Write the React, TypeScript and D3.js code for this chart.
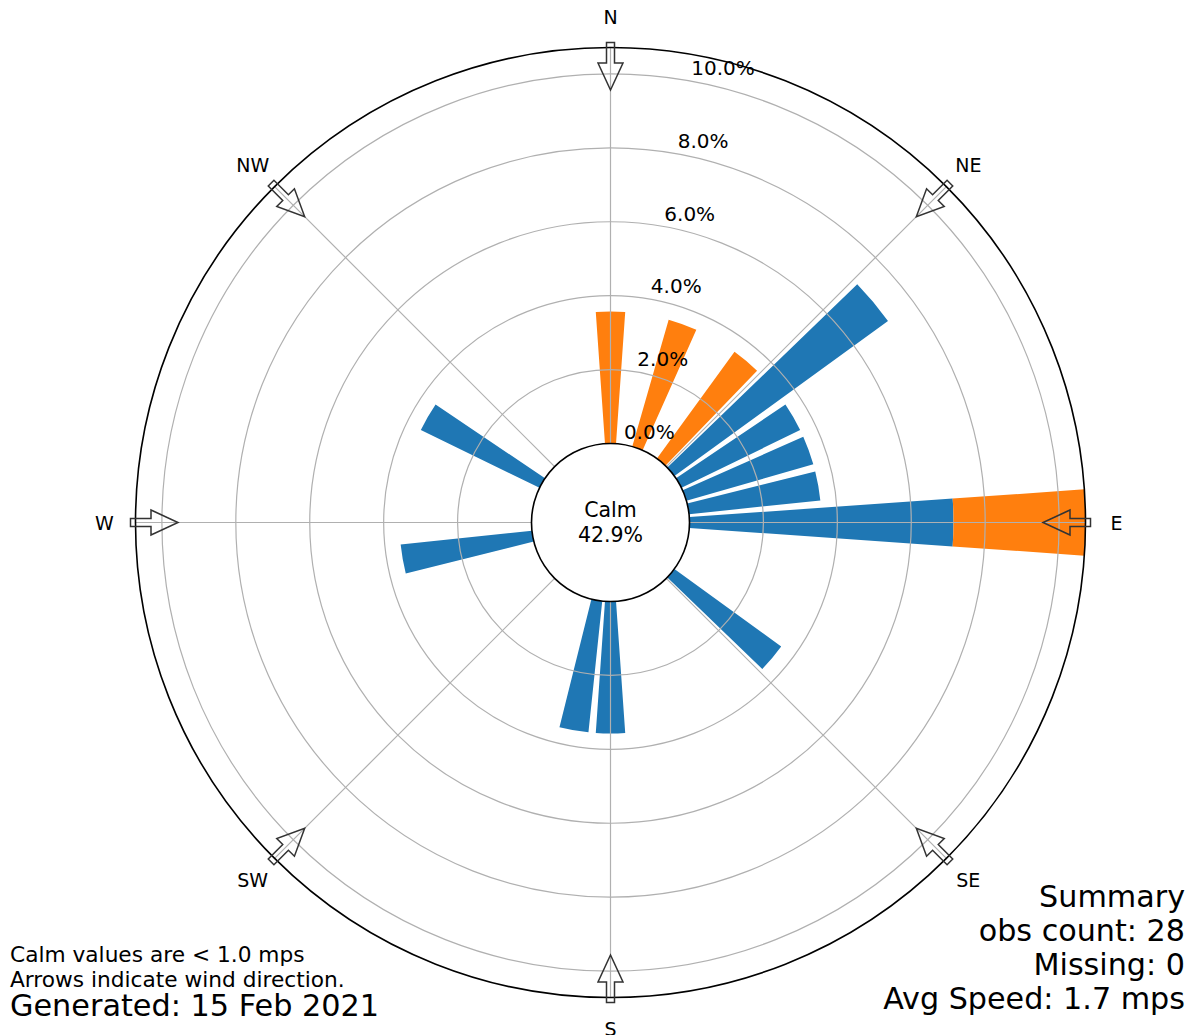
import React from 'react';
import * as d3 from 'd3';

// wind direction bins (deg) that have obs, counts per speed bin
const directions = [0, 20, 40, 50, 60, 70, 80, 90, 130, 180, 190, 260, 300];
const lowSpeedCounts = [0, 0, 0, 2, 1, 1, 1, 2, 1, 1, 1, 1, 1];
const highSpeedCounts = [1, 1, 1, 0, 0, 0, 0, 1, 0, 0, 0, 0, 0];
const obsCount = 28;
const calmPct = 42.9;

const ringTicks = [0, 2, 4, 6, 8, 10];
const compassLabels = ['N', 'NE', 'E', 'SE', 'S', 'SW', 'W', 'NW'];
const compassAngles = [0, 45, 90, 135, 180, 225, 270, 315];

const noteLines = ['Calm values are < 1.0 mps', 'Arrows indicate wind direction.'];
const generatedText = 'Generated: 15 Feb 2021';
const summaryLines = ['Summary', 'obs count: 28', 'Missing: 0', 'Avg Speed: 1.7 mps'];

const colors = ['#1f77b4', '#ff7f0e'];

export default function App() {
  const width = 1192;
  const height = 1035;
  const cx = 610.5;
  const cy = 522.5;
  const calmR = 79;
  const outerR = 475;
  const font = '"DejaVu Sans", sans-serif';

  const rows = directions.map((dir, i) => {
    const low = (lowSpeedCounts[i] / obsCount) * 100;
    const high = (highSpeedCounts[i] / obsCount) * 100;
    return { dir, low, total: low + high };
  });
  const maxPct = d3.max(rows, d => d.total) as number;

  const r = d3.scaleLinear().domain([0, maxPct]).range([calmR, outerR]);
  const rad = (deg: number) => (deg * Math.PI) / 180;
  const halfWidth = rad(4); // bars are 8 deg wide in 10 deg bins

  const arc = d3.arc<any>();
  const polar = (radius: number, deg: number): [number, number] => [
    cx + radius * Math.sin(rad(deg)),
    cy - radius * Math.cos(rad(deg)),
  ];

  // hollow arrow pointing inward at each compass point
  const arrowPts = [
    [480, -4], [459.5, -4], [459.5, -12.5], [432.5, 0],
    [459.5, 12.5], [459.5, 4], [480, 4],
  ];
  const arrowPath = (deg: number) => {
    const t = rad(deg);
    const pts = arrowPts.map(([a, p]) => [
      cx + a * Math.sin(t) + p * Math.cos(t),
      cy - a * Math.cos(t) + p * Math.sin(t),
    ]);
    return 'M' + pts.map(p => p.join(',')).join('L') + 'Z';
  };

  const labelAngle = 10.5;

  return (
    <svg
      width={width}
      height={height}
      style={{ position: 'absolute', left: 0, top: 0, display: 'block', background: '#fff' }}
      fontFamily={font}
    >
      <g transform={`translate(${cx},${cy})`}>
        {rows.map((d, i) => (
          <g key={i}>
            {d.low > 0 && (
              <path
                fill={colors[0]}
                d={arc({
                  innerRadius: r(0),
                  outerRadius: r(d.low),
                  startAngle: rad(d.dir) - halfWidth,
                  endAngle: rad(d.dir) + halfWidth,
                }) as string}
              />
            )}
            {d.total > d.low && (
              <path
                fill={colors[1]}
                d={arc({
                  innerRadius: r(d.low),
                  outerRadius: r(d.total),
                  startAngle: rad(d.dir) - halfWidth,
                  endAngle: rad(d.dir) + halfWidth,
                }) as string}
              />
            )}
          </g>
        ))}
      </g>

      {/* grid */}
      {ringTicks.filter(t => t > 0).map(t => (
        <circle key={t} cx={cx} cy={cy} r={r(t)} fill="none" stroke="#b0b0b0" strokeWidth={1.2} />
      ))}
      {compassAngles.map(a => {
        const [x1, y1] = polar(calmR, a);
        const [x2, y2] = polar(outerR, a);
        return <line key={a} x1={x1} y1={y1} x2={x2} y2={y2} stroke="#b0b0b0" strokeWidth={1.2} />;
      })}

      <circle cx={cx} cy={cy} r={outerR} fill="none" stroke="#000" strokeWidth={1.6} />
      <circle cx={cx} cy={cy} r={calmR} fill="#fff" stroke="#000" strokeWidth={1.6} />

      {compassAngles.map(a => (
        <path key={a} d={arrowPath(a)} fill="none" stroke="#333" strokeWidth={1.5} strokeLinejoin="miter" />
      ))}

      {/* ring labels */}
      {ringTicks.map(t => {
        const [x, y] = polar(r(t), labelAngle);
        return (
          <text key={t} x={x - 1} y={y - 13} fontSize={20} dominantBaseline="central" fill="#000">
            {t.toFixed(1)}%
          </text>
        );
      })}

      {compassLabels.map((lab, i) => {
        const [x, y] = polar(506, compassAngles[i]);
        return (
          <text key={lab} x={x} y={y} fontSize={19} textAnchor="middle" dominantBaseline="central" fill="#000">
            {lab}
          </text>
        );
      })}

      <text x={cx} y={517} fontSize={20.5} textAnchor="middle" fill="#000">Calm</text>
      <text x={cx} y={542} fontSize={20.5} textAnchor="middle" fill="#000">{calmPct.toFixed(1)}%</text>

      {noteLines.map((line, i) => (
        <text key={line} x={10} y={962 + i * 25} fontSize={21.7} fill="#000">{line}</text>
      ))}
      <text x={10} y={1016} fontSize={30.3} fill="#000">{generatedText}</text>

      {summaryLines.map((line, i) => (
        <text key={line} x={1185} y={907 + i * 34} fontSize={30.2} textAnchor="end" fill="#000">{line}</text>
      ))}
    </svg>
  );
}
